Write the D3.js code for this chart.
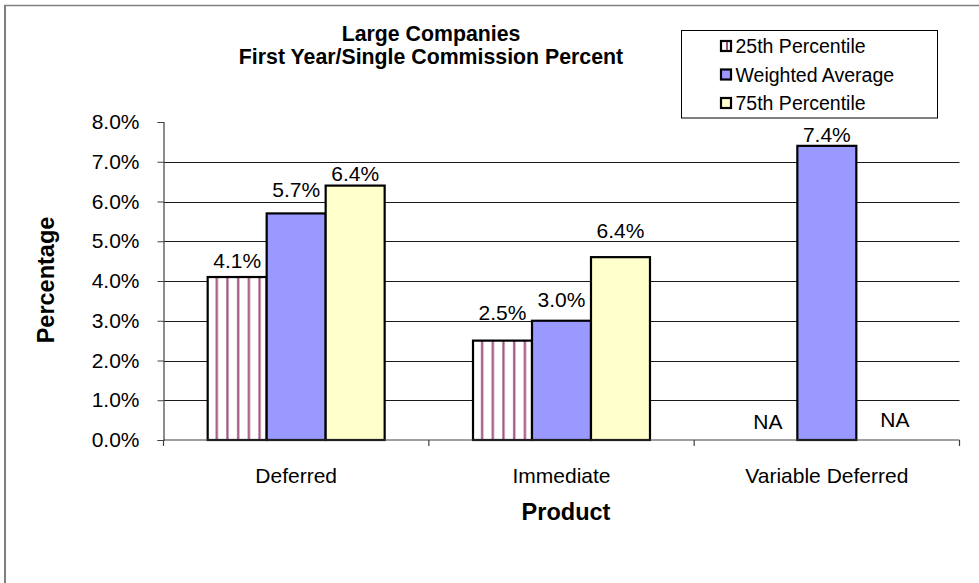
<!DOCTYPE html>
<html>
<head>
<meta charset="utf-8">
<script src="https://cdn.jsdelivr.net/npm/d3@7"></script>
<style>
  html, body { margin: 0; padding: 0; background: #ffffff; }
  svg { display: block; }
  text { font-family: "Liberation Sans", Arial, Helvetica, sans-serif; fill: #000; }
</style>
</head>
<body>
<svg id="chart" width="979" height="583"></svg>
<script>
// ---- Data ----
const categories = ["Deferred", "Immediate", "Variable Deferred"];
const seriesNames = ["25th Percentile", "Weighted Average", "75th Percentile"];
const p25Values = [4.1, 2.5, null];
const wavgValues = [5.7, 3.0, 7.4];
const p75Values = [6.4, 4.6, null];
const p25Labels = ["4.1%", "2.5%", "NA"];
const wavgLabels = ["5.7%", "3.0%", "7.4%"];
const p75Labels = ["6.4%", "6.4%", "NA"];
const yTickValues = [0, 1, 2, 3, 4, 5, 6, 7, 8];
const titleLines = ["Large Companies", "First Year/Single Commission Percent"];
const xAxisTitle = "Product";
const yAxisTitle = "Percentage";

// ---- Layout / style ----
const W = 979, H = 583;
const plot = { left: 163.5, right: 959.5, top: 122, bottom: 440 };
const colors = ["#ffffff", "#9999ff", "#ffffcc"];
const stripeColor = "#a0517f";
// label offsets above bar top (px), per category, per series
const labelGap = [[9, 16, 5], [21, 14, 19], [11, 4, 13]];
const labelDx = [[0, 0, 0], [0, 0, 0], [0, 0, 9]];

const svg = d3.select("#chart");

// pattern for 25th percentile
const defs = svg.append("defs");
const pat = defs.append("pattern")
  .attr("id", "stripes")
  .attr("patternUnits", "userSpaceOnUse")
  .attr("width", 10.7).attr("height", 10);
pat.append("rect").attr("width", 10.7).attr("height", 10).attr("fill", "#ffffff");
pat.append("rect").attr("x", 8).attr("width", 2.2).attr("height", 10).attr("fill", stripeColor);

const fills = ["url(#stripes)", colors[1], colors[2]];

// outer frame (top + left edges visible)
svg.append("line").attr("x1", 4).attr("x2", W).attr("y1", 5.5).attr("y2", 5.5)
  .attr("stroke", "#7f7f7f").attr("stroke-width", 1.5);
svg.append("line").attr("x1", 5).attr("x2", 5).attr("y1", 5).attr("y2", H)
  .attr("stroke", "#7f7f7f").attr("stroke-width", 2);

// scales
const x0 = d3.scaleBand().domain(categories)
  .range([plot.left, plot.right]).paddingInner(0.333).paddingOuter(0.1665);
const x1 = d3.scaleBand().domain(seriesNames).range([0, x0.bandwidth()]).padding(0);
const y = d3.scaleLinear().domain([0, 8]).range([plot.bottom, plot.top]);

// gridlines
svg.append("g").selectAll("line")
  .data(yTickValues.filter(v => v > 0 && v < 8))
  .join("line")
  .attr("x1", plot.left).attr("x2", plot.right)
  .attr("y1", d => Math.round(y(d)) + 0.5).attr("y2", d => Math.round(y(d)) + 0.5)
  .attr("stroke", "#1a1a1a").attr("stroke-width", 1);

// y axis
const yAxis = d3.axisLeft(y).tickValues(yTickValues)
  .tickFormat(d => d3.format(".1f")(d) + "%")
  .tickSize(6).tickPadding(18);
const gy = svg.append("g").attr("transform", `translate(${plot.left},0)`).call(yAxis);
gy.select(".domain").attr("stroke", "#404040").attr("stroke-width", 1.2);
gy.selectAll(".tick line").attr("stroke", "#404040");
gy.selectAll(".tick text").style("font-size", "21px")
  .style("font-family", '"Liberation Sans", Arial, sans-serif').attr("fill", "#000");

// bars
const rows = categories.map((c, i) => ({
  cat: c, i,
  vals: [p25Values[i], wavgValues[i], p75Values[i]],
  labels: [p25Labels[i], wavgLabels[i], p75Labels[i]]
}));
const groups = svg.append("g").selectAll("g").data(rows).join("g")
  .attr("transform", d => `translate(${x0(d.cat)},0)`);
groups.selectAll("rect")
  .data(d => d.vals.map((v, j) => ({ v, j, s: seriesNames[j] })).filter(e => e.v != null))
  .join("rect")
  .attr("x", e => x1(e.s))
  .attr("y", e => y(e.v))
  .attr("width", x1.bandwidth())
  .attr("height", e => y(0) - y(e.v))
  .attr("fill", e => fills[e.j])
  .attr("stroke", "#000").attr("stroke-width", 2.2);

// data labels
groups.selectAll("text.lbl")
  .data(d => d.labels.map((t, j) => ({ t, j, i: d.i, v: d.vals[j], s: seriesNames[j] })))
  .join("text")
  .attr("class", "lbl")
  .attr("x", e => x1(e.s) + x1.bandwidth() / 2 + labelDx[e.i][e.j])
  .attr("y", e => y(e.v == null ? 0 : e.v) - labelGap[e.i][e.j])
  .attr("text-anchor", "middle")
  .style("font-size", "21px")
  .text(e => e.t);

// x axis line + boundary ticks
const xa = svg.append("g");
xa.append("line").attr("x1", plot.left).attr("x2", plot.right)
  .attr("y1", plot.bottom).attr("y2", plot.bottom)
  .attr("stroke", "#404040").attr("stroke-width", 1.2);
const bounds = d3.range(categories.length + 1).map(k => plot.left + k * (plot.right - plot.left) / categories.length);
xa.selectAll("line.tk").data(bounds).join("line").attr("class", "tk")
  .attr("x1", d => d).attr("x2", d => d)
  .attr("y1", plot.bottom).attr("y2", plot.bottom + 6)
  .attr("stroke", "#404040").attr("stroke-width", 1.2);
xa.selectAll("text").data(categories).join("text")
  .attr("x", d => x0(d) + x0.bandwidth() / 2)
  .attr("y", 483)
  .attr("text-anchor", "middle")
  .style("font-size", "21px")
  .text(d => d);

// titles
svg.append("g").selectAll("text").data(titleLines).join("text")
  .attr("x", 431).attr("y", (d, i) => 41 + i * 23)
  .attr("text-anchor", "middle")
  .style("font-size", "21.3px").style("font-weight", "bold")
  .text(d => d);

svg.append("text").attr("x", 566).attr("y", 520)
  .attr("text-anchor", "middle")
  .style("font-size", "23.5px").style("font-weight", "bold")
  .text(xAxisTitle);

svg.append("text").attr("transform", "translate(54,280) rotate(-90)")
  .attr("text-anchor", "middle")
  .style("font-size", "23.5px").style("font-weight", "bold")
  .text(yAxisTitle);

// legend
const leg = svg.append("g");
leg.append("rect").attr("x", 681.5).attr("y", 30.5).attr("width", 256).attr("height", 87.5)
  .attr("fill", "#fff").attr("stroke", "#000").attr("stroke-width", 1);
const legItems = leg.selectAll("g").data(seriesNames).join("g")
  .attr("transform", (d, i) => `translate(0,${53 + i * 28.5})`);
legItems.append("rect")
  .attr("x", 721).attr("y", -12).attr("width", 10).attr("height", 10)
  .attr("fill", (d, i) => i === 0 ? "#ffffff" : colors[i])
  .attr("stroke", "#000").attr("stroke-width", 2.2);
legItems.filter((d, i) => i === 0).append("rect")
  .attr("x", 726).attr("y", -11).attr("width", 2).attr("height", 8).attr("fill", stripeColor);
legItems.append("text")
  .attr("x", 735.5).attr("y", 0)
  .style("font-size", "19.5px")
  .text(d => d);
</script>
</body>
</html>
